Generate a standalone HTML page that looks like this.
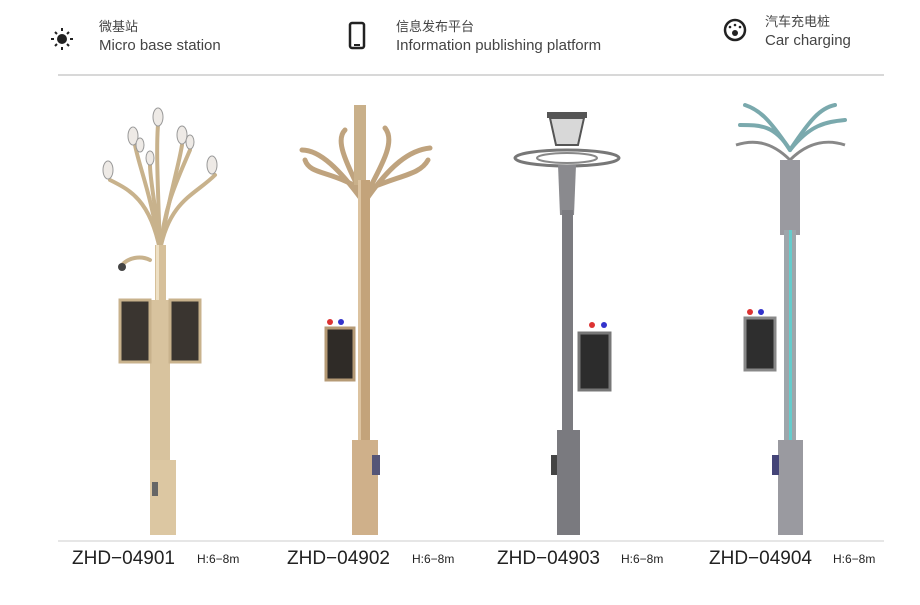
<!DOCTYPE html>
<html><head><meta charset="utf-8"><style>
body{margin:0;background:#fff;width:920px;height:600px;overflow:hidden;font-family:"Liberation Sans","Noto Sans CJK SC",sans-serif}
</style></head><body>
<svg width="920" height="600" xmlns="http://www.w3.org/2000/svg" font-family="Liberation Sans, Noto Sans CJK SC, sans-serif">
<rect width="920" height="600" fill="#fff"/>
<!-- header -->
<g fill="#222"><circle cx="62" cy="39" r="5"/>
<g stroke="#222" stroke-width="2"><line x1="62" y1="28" x2="62" y2="31"/><line x1="62" y1="47" x2="62" y2="50"/><line x1="51" y1="39" x2="54" y2="39"/><line x1="70" y1="39" x2="73" y2="39"/><line x1="55" y1="32" x2="57" y2="34"/><line x1="67" y1="44" x2="69" y2="46"/><line x1="55" y1="46" x2="57" y2="44"/><line x1="67" y1="34" x2="69" y2="32"/></g></g>
<text x="99" y="31" font-size="13" fill="#444">微基站</text>
<text x="99" y="50" font-size="15" fill="#444">Micro base station</text>
<rect x="350" y="23" width="14" height="25" rx="2" fill="none" stroke="#222" stroke-width="2.5"/>
<rect x="354" y="44" width="6" height="2" fill="#222"/>
<text x="396" y="31" font-size="13" fill="#444">信息发布平台</text>
<text x="396" y="50" font-size="15" fill="#444">Information publishing platform</text>
<circle cx="735" cy="30" r="10" fill="none" stroke="#222" stroke-width="2.5"/>
<circle cx="735" cy="33" r="3" fill="#222"/><circle cx="730" cy="27" r="1.3" fill="#222"/><circle cx="735" cy="25" r="1.3" fill="#222"/><circle cx="740" cy="27" r="1.3" fill="#222"/>
<text x="765" y="26" font-size="13" fill="#444">汽车充电桩</text>
<text x="765" y="45" font-size="15" fill="#444">Car charging</text>
<line x1="58" y1="75" x2="884" y2="75" stroke="#d8d8d8" stroke-width="2"/>
<line x1="58" y1="541" x2="884" y2="541" stroke="#ddd" stroke-width="1.5"/>

<!-- pole 1 gold -->
<g>
<g fill="none" stroke="#c8b28c" stroke-width="4" stroke-linecap="round">
<path d="M160 250 C150 200 130 190 110 180"/><path d="M160 250 C170 200 195 195 215 175"/>
<path d="M160 250 C150 190 140 170 135 145"/><path d="M160 250 C170 190 178 170 182 145"/>
<path d="M160 250 C158 190 156 150 158 125"/><path d="M160 250 C155 200 150 180 150 165"/>
<path d="M160 250 C165 205 175 185 190 150"/><path d="M150 260 C140 255 128 258 122 265"/>
</g>
<g fill="#eeeae6" stroke="#999" stroke-width="1">
<ellipse cx="108" cy="170" rx="5" ry="9"/><ellipse cx="212" cy="165" rx="5" ry="9"/><ellipse cx="133" cy="136" rx="5" ry="9"/><ellipse cx="182" cy="135" rx="5" ry="9"/><ellipse cx="158" cy="117" rx="5" ry="9"/><ellipse cx="150" cy="158" rx="4" ry="7"/><ellipse cx="190" cy="142" rx="4" ry="7"/><ellipse cx="140" cy="145" rx="4" ry="7"/></g>
<circle cx="122" cy="267" r="4" fill="#444"/>
<rect x="155" y="245" width="11" height="220" fill="#d6c09a"/>
<rect x="156" y="245" width="3" height="220" fill="#eee0c4"/>
<path d="M150 300 L150 460 L170 460 L170 300 Z" fill="#d8c39e"/>
<rect x="120" y="300" width="30" height="62" fill="#3a3530" stroke="#c8b28c" stroke-width="3"/>
<rect x="170" y="300" width="30" height="62" fill="#3a3530" stroke="#c8b28c" stroke-width="3"/>
<rect x="150" y="460" width="26" height="75" fill="#dcc7a2"/>
<rect x="152" y="482" width="6" height="14" fill="#666"/>
</g>

<!-- pole 2 bronze -->
<g>
<g fill="none" stroke="#bfa37e" stroke-width="5" stroke-linecap="round">
<path d="M362 200 C340 170 320 150 302 150"/><path d="M366 200 C390 165 410 150 430 148"/>
<path d="M362 195 C345 160 335 140 345 130"/><path d="M366 195 C385 160 395 140 385 128"/>
<path d="M362 190 C330 170 310 175 305 160"/><path d="M366 190 C400 175 420 175 428 160"/>
</g>
<rect x="354" y="105" width="12" height="80" fill="#c9b08a"/>
<rect x="358" y="180" width="12" height="260" fill="#c3a37a"/>
<rect x="358" y="180" width="3" height="260" fill="#dcc3a0"/>
<rect x="326" y="328" width="28" height="52" fill="#2f2b27" stroke="#b59a75" stroke-width="3"/>
<circle cx="330" cy="322" r="3" fill="#d33"/><circle cx="341" cy="322" r="3" fill="#33c"/>
<rect x="352" y="440" width="26" height="95" fill="#cfb08a"/>
<rect x="372" y="455" width="8" height="20" fill="#557"/>
</g>

<!-- pole 3 grey -->
<g>
<ellipse cx="567" cy="158" rx="52" ry="8" fill="none" stroke="#777" stroke-width="3"/>
<ellipse cx="567" cy="158" rx="30" ry="5" fill="none" stroke="#888" stroke-width="2"/>
<path d="M550 118 L584 118 L578 145 L556 145 Z" fill="#d8d8d8" stroke="#555" stroke-width="2"/>
<rect x="547" y="112" width="40" height="6" fill="#555"/>
<path d="M558 165 L576 165 L574 215 L560 215 Z" fill="#8a8a8e"/>
<rect x="562" y="210" width="11" height="225" fill="#7b7b80"/>
<rect x="579" y="333" width="31" height="57" fill="#2c2c2c" stroke="#777" stroke-width="3"/>
<circle cx="592" cy="325" r="3" fill="#d33"/><circle cx="604" cy="325" r="3" fill="#33c"/>
<rect x="557" y="430" width="23" height="105" fill="#7a7a7f"/>
<rect x="551" y="455" width="6" height="20" fill="#444"/>
</g>

<!-- pole 4 -->
<g>
<g fill="none" stroke="#7aa9ad" stroke-width="4" stroke-linecap="round">
<path d="M790 150 C770 120 760 110 745 105"/><path d="M790 150 C810 120 820 108 835 105"/>
<path d="M790 150 C775 125 760 125 740 125"/><path d="M790 150 C810 125 825 122 845 120"/>
</g>
<g fill="none" stroke="#888" stroke-width="3"><path d="M790 160 C770 140 752 140 736 145"/><path d="M790 160 C810 140 830 140 845 145"/></g>
<rect x="780" y="160" width="20" height="75" fill="#9a9aa0"/>
<rect x="784" y="230" width="12" height="210" fill="#9ea6ab"/>
<rect x="789" y="230" width="3" height="210" fill="#6cc"/>
<rect x="745" y="318" width="30" height="52" fill="#2e2e2e" stroke="#888" stroke-width="3"/>
<circle cx="750" cy="312" r="3" fill="#d33"/><circle cx="761" cy="312" r="3" fill="#33c"/>
<rect x="778" y="440" width="25" height="95" fill="#9a9aa0"/>
<rect x="772" y="455" width="7" height="20" fill="#447"/>
</g>

<g font-size="19" fill="#222">
<text x="72" y="564">ZHD−04901</text><text x="287" y="564">ZHD−04902</text><text x="497" y="564">ZHD−04903</text><text x="709" y="564">ZHD−04904</text>
</g>
<g font-size="12" fill="#222">
<text x="197" y="563">H:6−8m</text><text x="412" y="563">H:6−8m</text><text x="621" y="563">H:6−8m</text><text x="833" y="563">H:6−8m</text>
</g>
</svg>
</body></html>
